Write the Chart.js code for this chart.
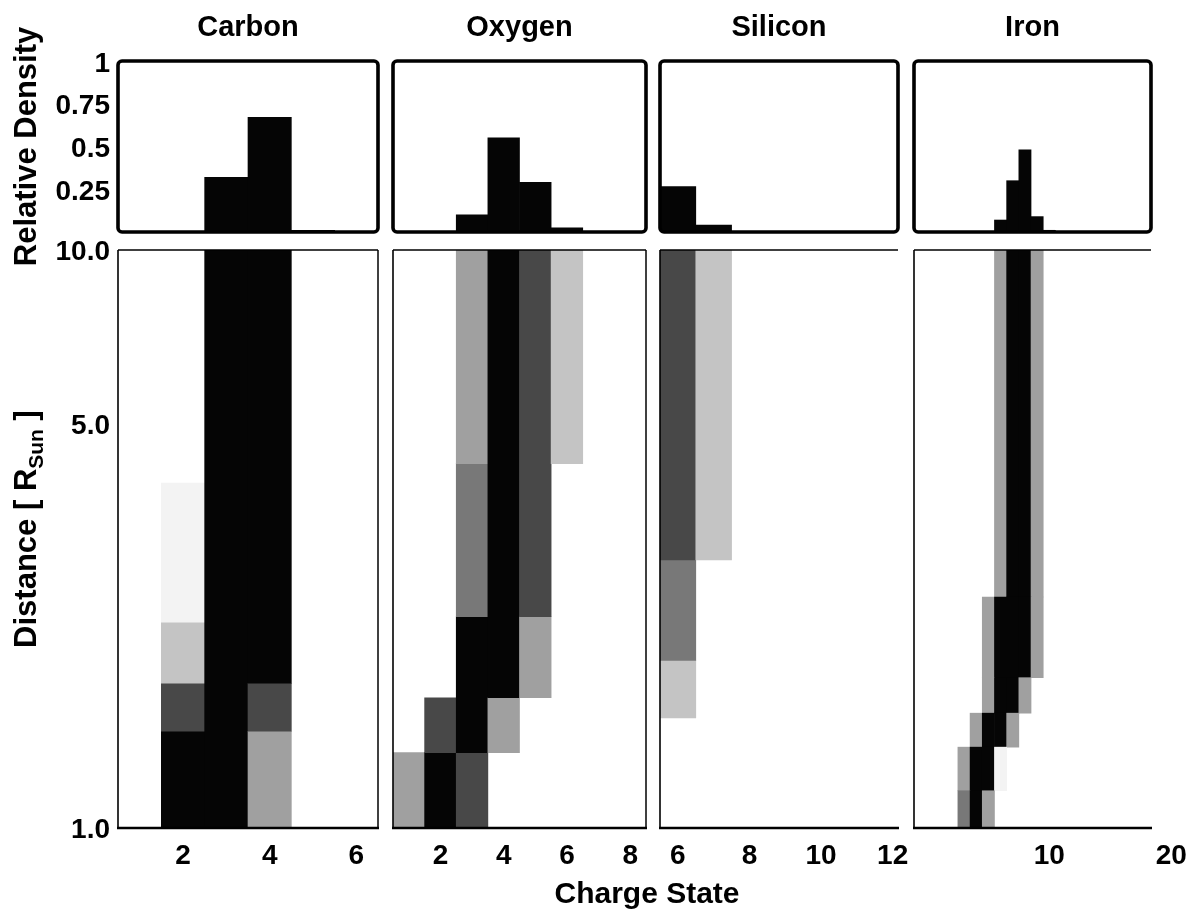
<!DOCTYPE html>
<html>
<head>
<meta charset="utf-8">
<script src="https://cdn.jsdelivr.net/npm/chart.js@4.4.1/dist/chart.umd.min.js"></script>
<style>
  html, body { margin: 0; padding: 0; background: #fff; }
  #wrap { position: relative; width: 1194px; height: 915px; overflow: hidden; background: #fff; }
  #wrap canvas { position: absolute; }
  #xtitle { position: absolute; left: 347px; width: 600px; top: 876px; height: 30px; line-height: 30px;
            text-align: center; font: bold 30px 'Liberation Sans', Arial, Helvetica, sans-serif; color: #000; white-space: nowrap; }
</style>
</head>
<body>
<div id="wrap"><div id="xtitle">Charge State</div></div>
<script>
// ---------------- DATA ----------------
const elements = ['Carbon', 'Oxygen', 'Silicon', 'Iron'];

// relative density per charge state (top histograms)
const carbonCharges  = [1, 2, 3, 4, 5, 6];
const carbonDensity  = [0, 0, 0.32, 0.67, 0.01, 0];
const oxygenCharges  = [1, 2, 3, 4, 5, 6, 7, 8];
const oxygenDensity  = [0, 0, 0.10, 0.55, 0.29, 0.025, 0, 0];
const siliconCharges = [6, 7, 8, 9, 10, 11, 12];
const siliconDensity = [0.265, 0.04, 0, 0, 0, 0, 0];
const ironCharges    = [5, 6, 7, 8, 9, 10, 11];
const ironDensity    = [0, 0.07, 0.30, 0.48, 0.09, 0.01, 0];

// distance-resolved cells: [charge state, from R_sun, to R_sun, shade level (1 faint .. 6 black)]
const carbonCells = [
  [2, 1.00, 1.47, 6], [2, 1.47, 1.78, 5], [2, 1.78, 2.27, 2], [2, 2.27, 3.95, 1],
  [3, 1.00, 10.0, 6],
  [4, 1.00, 1.47, 3], [4, 1.47, 1.78, 5], [4, 1.78, 10.0, 6]
];
const oxygenCells = [
  [1, 1.00, 1.35, 3],
  [2, 1.00, 1.35, 6], [2, 1.35, 1.68, 5],
  [3, 1.00, 1.35, 5], [3, 1.35, 2.32, 6], [3, 2.32, 4.27, 4], [3, 4.27, 10.0, 3],
  [4, 1.35, 1.68, 3], [4, 1.68, 10.0, 6],
  [5, 1.68, 2.32, 3], [5, 2.32, 10.0, 5],
  [6, 4.27, 10.0, 2]
];
const siliconCells = [
  [6, 1.55, 1.95, 2], [6, 1.95, 2.91, 4], [6, 2.91, 10.0, 5],
  [7, 2.91, 10.0, 2]
];
const ironCells = [
  [6, 2.51, 10.0, 3], [7, 2.51, 10.0, 6], [8, 2.51, 10.0, 6], [9, 2.51, 10.0, 3],
  [5, 1.82, 2.51, 3], [6, 1.82, 2.51, 6], [7, 1.82, 2.51, 6], [8, 1.82, 2.51, 6], [9, 1.82, 2.51, 3],
  [5, 1.58, 1.82, 3], [6, 1.58, 1.82, 6], [7, 1.58, 1.82, 6], [8, 1.58, 1.82, 3],
  [4, 1.38, 1.58, 3], [5, 1.38, 1.58, 6], [6, 1.38, 1.58, 6], [7, 1.38, 1.58, 3],
  [3, 1.16, 1.38, 3], [4, 1.16, 1.38, 6], [5, 1.16, 1.38, 6], [6, 1.16, 1.38, 1],
  [3, 1.00, 1.16, 4], [4, 1.00, 1.16, 6], [5, 1.00, 1.16, 3]
];

// tick values / labels
const densityTickValues  = [0.25, 0.5, 0.75, 1];
const densityTickLabels  = ['0.25', '0.5', '0.75', '1'];
const distanceTickValues = [1, 5, 10];
const distanceTickLabels = ['1.0', '5.0', '10.0'];
const carbonChargeTicks  = [2, 4, 6];
const oxygenChargeTicks  = [2, 4, 6, 8];
const siliconChargeTicks = [6, 8, 10, 12];
const ironChargeTicks    = [10, 20];
const densityAxisTitle   = 'Relative Density';
const distanceTitleParts = ['Distance [ R', 'Sun', ' ]'];

// ---------------- STYLE / LAYOUT ----------------
const shadePalette = ['#ffffff', '#f3f3f3', '#c4c4c4', '#a0a0a0', '#787878', '#484848', '#050505'];
const FAMILY = "'Liberation Sans', Arial, Helvetica, sans-serif";
Chart.defaults.font.family = FAMILY;
Chart.defaults.color = '#000';
const FONT_TICK  = { size: 28, weight: 'bold', lineHeight: 1.2 };
const FONT_TITLE = { size: 29, weight: 'bold', lineHeight: 1 };
const FONT_AXIS  = { size: 31, weight: 'bold', lineHeight: 1 };
const TOP = [61, 232], BOT = [250, 828];

const panels = [
  { name: elements[0], charges: carbonCharges,  density: carbonDensity,  cells: carbonCells,  range: [0.5, 6.5],   ticks: carbonChargeTicks,  x: [118, 378], rb: 1.5 },
  { name: elements[1], charges: oxygenCharges,  density: oxygenDensity,  cells: oxygenCells,  range: [0.5, 8.5],   ticks: oxygenChargeTicks,  x: [387, 646], rb: 1.5 },
  { name: elements[2], charges: siliconCharges, density: siliconDensity, cells: siliconCells, range: [5.5, 12.15], ticks: siliconChargeTicks, x: [654, 898], rb: 0 },
  { name: elements[3], charges: ironCharges,    density: ironDensity,    cells: ironCells,    range: [-1.1, 18.34], ticks: ironChargeTicks,    x: [908, 1151], rb: 0 }
];

const framePlugin = {
  id: 'frame',
  afterDatasetsDraw(chart, args, o) {
    const ctx = chart.ctx, a = chart.chartArea;
    ctx.save();
    ctx.strokeStyle = '#000';
    if (o.radius) {
      ctx.lineWidth = o.width;
      ctx.beginPath();
      if (ctx.roundRect) ctx.roundRect(a.left, a.top, a.right - a.left, a.bottom - a.top, o.radius);
      else ctx.rect(a.left, a.top, a.right - a.left, a.bottom - a.top);
      ctx.stroke();
    } else {
      const side = (w, x1, y1, x2, y2) => {
        if (!w) return;
        ctx.lineWidth = w; ctx.beginPath(); ctx.moveTo(x1, y1); ctx.lineTo(x2, y2); ctx.stroke();
      };
      side(o.left, a.left, a.top, a.left, a.bottom);
      side(o.top, a.left, a.top, a.right, a.top);
      side(o.right, a.right, a.top, a.right, a.bottom);
      side(o.bottom, a.left - 1, a.bottom, a.right + 1, a.bottom);
    }
    ctx.restore();
  }
};

const distanceTitlePlugin = {
  id: 'distTitle',
  afterDraw(chart) {
    const ctx = chart.ctx, a = chart.chartArea;
    ctx.save();
    ctx.translate(27, (a.top + a.bottom) / 2 - 10);
    ctx.rotate(-Math.PI / 2);
    ctx.fillStyle = '#000';
    ctx.textBaseline = 'middle';
    ctx.textAlign = 'left';
    const big = 'bold 31px ' + FAMILY, small = 'bold 21px ' + FAMILY;
    const parts = [[distanceTitleParts[0], big, 0], [distanceTitleParts[1], small, 10], [distanceTitleParts[2], big, 0]];
    let total = 0;
    for (const p of parts) { ctx.font = p[1]; total += ctx.measureText(p[0]).width; }
    let x = -total / 2;
    for (const p of parts) { ctx.font = p[1]; ctx.fillText(p[0], x, p[2]); x += ctx.measureText(p[0]).width; }
    ctx.restore();
  }
};

const wrap = document.getElementById('wrap');
function addCanvas(left, top, width, height) {
  const c = document.createElement('canvas');
  c.width = width; c.height = height;
  c.style.left = left + 'px'; c.style.top = top + 'px';
  c.style.width = width + 'px'; c.style.height = height + 'px';
  wrap.insertBefore(c, wrap.firstChild);
  return c;
}

function xScale(p, show) {
  return {
    type: 'linear', display: show, offset: false, min: p.range[0], max: p.range[1],
    afterBuildTicks: s => { s.ticks = p.ticks.map(v => ({ value: v })); },
    afterFit: s => { if (show) s.height = 62; s.paddingLeft = 0; s.paddingRight = 0; },
    ticks: { font: FONT_TICK, padding: 11, autoSkip: false, maxRotation: 0, minRotation: 0, callback: v => String(v) },
    grid: { display: false, drawTicks: false },
    border: { display: false }
  };
}

panels.forEach((p, i) => {
  const first = i === 0;
  const leftSpace = first ? p.x[0] : 6;
  const w = p.x[1] - p.x[0];

  // ---- top histogram ----
  const topRight = 6, topBottom = 48;
  const ct = addCanvas(p.x[0] - leftSpace, 0, leftSpace + w + topRight, TOP[1] + topBottom);
  new Chart(ct, {
    type: 'bar',
    data: { datasets: [{
      data: p.charges.map((c, k) => ({ x: c, y: p.density[k] })),
      backgroundColor: '#050505', borderWidth: 0,
      barPercentage: 1, categoryPercentage: 1, grouped: false
    }] },
    options: {
      responsive: false, animation: false, devicePixelRatio: 1, events: [],
      layout: { padding: { left: first ? 0 : 6, right: topRight, top: 0, bottom: topBottom } },
      plugins: {
        legend: { display: false }, tooltip: { enabled: false },
        title: { display: true, text: p.name, fullSize: false, font: FONT_TITLE, color: '#000', padding: { top: 13, bottom: 19 } },
        frame: { width: 3.6, radius: 4 }
      },
      scales: {
        x: xScale(p, false),
        y: {
          type: 'linear', display: first, min: 0, max: 1,
          afterBuildTicks: s => { s.ticks = densityTickValues.map(v => ({ value: v })); },
          afterFit: s => { s.width = leftSpace; s.paddingTop = 0; s.paddingBottom = 0; },
          ticks: { font: FONT_TICK, padding: 8, labelOffset: 3, callback: v => densityTickLabels[densityTickValues.indexOf(v)] },
          grid: { display: false, drawTicks: false },
          border: { display: false },
          title: { display: true, text: densityAxisTitle, font: FONT_AXIS, color: '#000', padding: { top: 12, bottom: 0 } }
        }
      }
    },
    plugins: [framePlugin]
  });

  // ---- bottom distance map ----
  const botRight = i === 3 ? 1194 - p.x[1] : 20;
  const cb = addCanvas(p.x[0] - leftSpace, BOT[0] - 20, leftSpace + w + botRight, (BOT[1] - BOT[0]) + 20 + 62);
  const plugs = [framePlugin];
  if (first) plugs.push(distanceTitlePlugin);
  new Chart(cb, {
    type: 'bar',
    data: { datasets: [{
      data: p.cells.map(c => ({ x: c[0], y: [c[1], c[2]] })),
      backgroundColor: p.cells.map(c => shadePalette[c[3]]),
      borderWidth: 0, barPercentage: 1, categoryPercentage: 1, grouped: false
    }] },
    options: {
      responsive: false, animation: false, devicePixelRatio: 1, events: [],
      layout: { padding: { left: first ? 0 : 6, right: botRight, top: 20, bottom: 0 } },
      plugins: {
        legend: { display: false }, tooltip: { enabled: false },
        frame: { left: 1.6, top: 1.6, right: p.rb, bottom: 2.6 }
      },
      scales: {
        x: xScale(p, true),
        y: {
          type: 'logarithmic', display: first, min: 1, max: 10,
          afterBuildTicks: s => { s.ticks = distanceTickValues.map(v => ({ value: v })); },
          afterFit: s => { s.width = leftSpace; s.paddingTop = 0; s.paddingBottom = 0; },
          ticks: { font: FONT_TICK, padding: 8, labelOffset: 2, autoSkip: false, callback: v => distanceTickLabels[distanceTickValues.indexOf(v)] },
          grid: { display: false, drawTicks: false },
          border: { display: false }
        }
      }
    },
    plugins: plugs
  });
});
</script>
</body>
</html>
